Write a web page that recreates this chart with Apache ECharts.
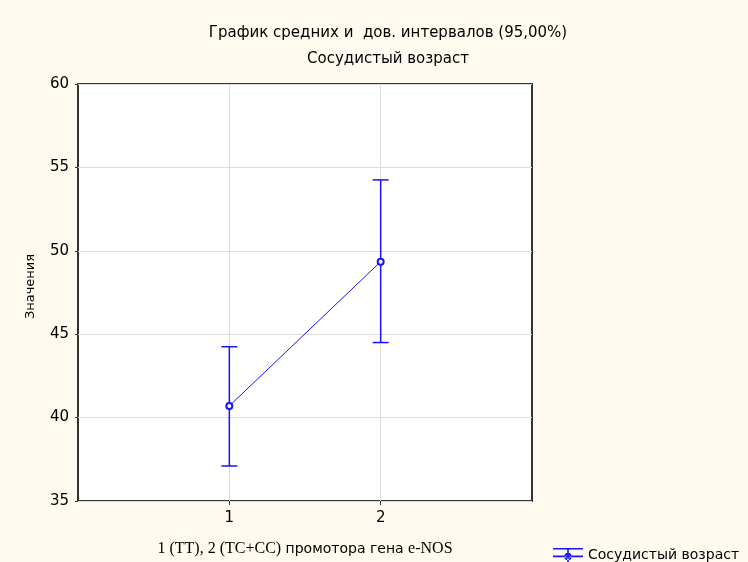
<!DOCTYPE html>
<html>
<head>
<meta charset="utf-8">
<script src="https://cdn.jsdelivr.net/npm/echarts@6/dist/echarts.min.js"></script>
<style>
    html, body { margin: 0; padding: 0; background: #fffaf0; }
    #chart { width: 748px; height: 562px; }
</style>
</head>
<body>
<div id="chart"></div>
<script>
    // группы (1 = TT, 2 = TC+CC)
    var groups = [1, 2];
    var means = [40.7, 49.35];      // средние
    var lower = [37.1, 44.5];       // нижняя граница 95% ДИ
    var upper = [44.25, 54.25];     // верхняя граница 95% ДИ
    var yTicks = [35, 40, 45, 50, 55, 60];

    var seriesName = 'Сосудистый возраст';
    var blue = '#1414ff';
    var font = '"DejaVu Sans", Verdana, sans-serif';
    var serif = '"Liberation Serif", "Times New Roman", serif';

    var meanData = groups.map(function (g, i) { return [g, means[i]]; });
    var ciData = groups.map(function (g, i) { return [g, lower[i], upper[i]]; });

    var myChart = echarts.init(document.getElementById('chart'));
    myChart.setOption({
        backgroundColor: '#fffaf0',
        animation: false,
        title: [{
            text: 'График средних и  дов. интервалов (95,00%)',
            left: 383, top: 21, textAlign: 'center',
            textStyle: { fontFamily: font, fontSize: 15, fontWeight: 'normal', color: '#000' }
        }, {
            text: 'Сосудистый возраст',
            left: 383, top: 47, textAlign: 'center',
            textStyle: { fontFamily: font, fontSize: 15, fontWeight: 'normal', color: '#000' }
        }],
        legend: {
            left: 548, top: 543,
            itemWidth: 30, itemHeight: 15, itemGap: 6,
            // значок: планка ДИ + средняя с кружком
            icon: 'path://M0,0H30V1.6H0Z M0,7.6H30V9.2H0Z M14.2,0H15.8V15H14.2Z M11.4,8.4A3.6,3.6 0 0,1 18.6,8.4L17,8.4A2,2 0 0,0 13,8.4Z M11.4,8.4A3.6,3.6 0 0,0 18.6,8.4L17,8.4A2,2 0 0,1 13,8.4Z',
            data: [seriesName],
            textStyle: { fontFamily: font, fontSize: 14, color: '#000' }
        },
        grid: {
            left: 78, right: 216, top: 84, bottom: 61,
            show: true, backgroundColor: '#fff', borderColor: '#333', borderWidth: 2
        },
        xAxis: {
            type: 'value', min: 0, max: 3, interval: 1,
            name: '{s|1 (TT), 2 (TC+CC)}{a| промотора гена }{s|e-NOS}',
            nameLocation: 'middle', nameGap: 40,
            nameTextStyle: {
                rich: {
                    s: { fontFamily: serif, fontSize: 16, color: '#000' },
                    a: { fontFamily: font, fontSize: 14, color: '#000' }
                }
            },
            axisLine: { show: false },
            axisTick: { show: true, length: 4, customValues: groups, lineStyle: { color: '#333' } },
            axisLabel: {
                fontFamily: font, fontSize: 15, color: '#000', margin: 10,
                customValues: groups
            },
            splitLine: { show: true, lineStyle: { color: '#dcdcdc', width: 1 } }
        },
        yAxis: {
            type: 'value', min: yTicks[0], max: yTicks[yTicks.length - 1], interval: 5,
            name: 'Значения', nameLocation: 'middle', nameGap: 41,
            nameTextStyle: { fontFamily: font, fontSize: 13, color: '#000', padding: [0, 0, 0, 12] },
            axisLine: { show: false },
            axisTick: { show: true, length: 3, lineStyle: { color: '#333' } },
            axisLabel: { fontFamily: font, fontSize: 15, color: '#000', margin: 9 },
            splitLine: { show: true, lineStyle: { color: '#dcdcdc', width: 1 } }
        },
        series: [{
            name: seriesName,
            type: 'line',
            data: meanData,
            symbol: 'emptyCircle',
            symbolSize: 6,
            itemStyle: { color: blue, borderWidth: 1 },
            lineStyle: { color: blue, width: 1 },
            z: 3
        }, {
            name: seriesName,
            type: 'custom',
            data: ciData,
            renderItem: function (params, api) {
                var lo = api.coord([api.value(0), api.value(1)]);
                var hi = api.coord([api.value(0), api.value(2)]);
                var hw = 8;
                var style = { stroke: blue, lineWidth: 1.5, fill: null };
                return {
                    type: 'group',
                    children: [
                        { type: 'line', shape: { x1: lo[0], y1: lo[1], x2: hi[0], y2: hi[1] }, style: style },
                        { type: 'line', shape: { x1: lo[0] - hw, y1: lo[1], x2: lo[0] + hw, y2: lo[1] }, style: style },
                        { type: 'line', shape: { x1: hi[0] - hw, y1: hi[1], x2: hi[0] + hw, y2: hi[1] }, style: style }
                    ]
                };
            },
            z: 2
        }]
    });
</script>
</body>
</html>
